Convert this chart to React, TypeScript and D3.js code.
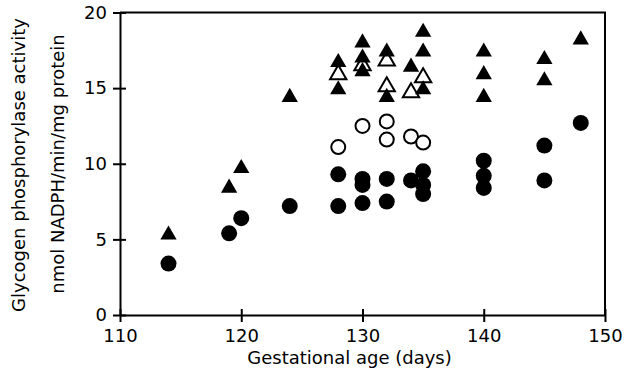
import React, { useEffect, useRef } from 'react';
import * as d3 from 'd3';

// gestational age (days) and activity values
const filledTriDays = [114, 119, 120, 124, 128, 128, 130, 130, 130, 132, 132, 134, 135, 135, 135, 140, 140, 140, 145, 145, 148];
const filledTriVals = [5.3, 8.4, 9.7, 14.4, 16.7, 14.9, 18.0, 17.0, 16.1, 17.4, 14.4, 16.4, 18.7, 17.4, 14.9, 17.4, 15.9, 14.4, 16.9, 15.5, 18.2];

const openTriDays = [128, 130, 132, 132, 134, 135];
const openTriVals = [15.9, 16.5, 16.8, 15.1, 14.7, 15.7];

const openCircDays = [128, 130, 132, 132, 134, 135];
const openCircVals = [11.1, 12.5, 12.8, 11.6, 11.8, 11.4];

const filledCircDays = [114, 119, 120, 124, 128, 128, 130, 130, 130, 132, 132, 134, 135, 135, 135, 140, 140, 140, 145, 145, 148];
const filledCircVals = [3.4, 5.4, 6.4, 7.2, 9.3, 7.2, 9.0, 8.6, 7.4, 9.0, 7.5, 8.9, 9.5, 8.6, 8.0, 10.2, 9.2, 8.4, 11.2, 8.9, 12.7];

const xTicks = [110, 120, 130, 140, 150];
const yTicks = [0, 5, 10, 15, 20];

const xLabel = 'Gestational age (days)';
const yLabel1 = 'Glycogen phosphorylase activity';
const yLabel2 = 'nmol NADPH/min/mg protein';

const App = () => {
  const svgRef = useRef<SVGSVGElement>(null);

  const width = 634;
  const height = 371;

  useEffect(() => {
    const svg = d3.select(svgRef.current);
    svg.selectAll('*').remove();

    const font = '"DejaVu Sans", sans-serif';

    const x = d3.scaleLinear().domain([110, 150]).range([120, 605]);
    const y = d3.scaleLinear().domain([0, 20]).range([315, 12.5]);

    const pairs = (a: number[], b: number[]) => a.map((d, i) => [d, b[i]]);

    // frame: top and right lines
    svg.append('path')
      .attr('d', `M${x(110)},${y(20)}H${x(150)}V${y(0)}`)
      .attr('fill', 'none')
      .attr('stroke', '#000')
      .attr('stroke-width', 2);

    // x axis
    const xAxis = d3.axisBottom(x).tickValues(xTicks).tickSize(0).tickPadding(14);
    const gx = svg.append('g')
      .attr('transform', `translate(0,${y(0)})`)
      .call(xAxis);
    gx.select('.domain').attr('stroke-width', 2);
    gx.selectAll('.tick').append('line')
      .attr('y1', -6).attr('y2', 7)
      .attr('stroke', '#000').attr('stroke-width', 2);
    gx.selectAll('.tick text')
      .attr('font-family', font).attr('font-size', 18).attr('fill', '#000');

    // y axis
    const yAxis = d3.axisLeft(y).tickValues(yTicks).tickSize(0).tickPadding(13);
    const gy = svg.append('g')
      .attr('transform', `translate(${x(110)},0)`)
      .call(yAxis);
    gy.select('.domain').attr('stroke-width', 2);
    gy.selectAll('.tick').append('line')
      .attr('x1', -7).attr('x2', 6)
      .attr('stroke', '#000').attr('stroke-width', 2);
    gy.selectAll('.tick text')
      .attr('font-family', font).attr('font-size', 18).attr('fill', '#000');

    // axis titles
    svg.append('text')
      .attr('x', (x(110) + x(150)) / 2 - 13)
      .attr('y', 364)
      .attr('text-anchor', 'middle')
      .attr('font-family', font).attr('font-size', 18)
      .text(xLabel);

    svg.append('text')
      .attr('transform', `translate(25,165) rotate(-90)`)
      .attr('text-anchor', 'middle')
      .attr('font-family', font).attr('font-size', 18)
      .text(yLabel1);

    svg.append('text')
      .attr('transform', `translate(64,164) rotate(-90)`)
      .attr('text-anchor', 'middle')
      .attr('font-family', font).attr('font-size', 18)
      .text(yLabel2);

    const tri = d3.symbol().type(d3.symbolTriangle).size(115);

    // open circles
    svg.selectAll('.ocirc')
      .data(pairs(openCircDays, openCircVals))
      .enter()
      .append('circle')
      .attr('cx', d => x(d[0]))
      .attr('cy', d => y(d[1]))
      .attr('r', 7)
      .attr('fill', '#fff')
      .attr('stroke', '#000')
      .attr('stroke-width', 2);

    // filled circles
    svg.selectAll('.fcirc')
      .data(pairs(filledCircDays, filledCircVals))
      .enter()
      .append('circle')
      .attr('cx', d => x(d[0]))
      .attr('cy', d => y(d[1]))
      .attr('r', 8)
      .attr('fill', '#000');

    // open triangles
    svg.selectAll('.otri')
      .data(pairs(openTriDays, openTriVals))
      .enter()
      .append('path')
      .attr('d', tri)
      .attr('transform', d => `translate(${x(d[0])},${y(d[1])})`)
      .attr('fill', '#fff')
      .attr('stroke', '#000')
      .attr('stroke-width', 2);

    // filled triangles
    svg.selectAll('.ftri')
      .data(pairs(filledTriDays, filledTriVals))
      .enter()
      .append('path')
      .attr('d', tri)
      .attr('transform', d => `translate(${x(d[0])},${y(d[1])})`)
      .attr('fill', '#000');
  }, []);

  return (
    <svg
      ref={svgRef}
      width={width}
      height={height}
      style={{ position: 'absolute', left: 0, top: 0, background: '#fff' }}
    />
  );
};

export default App;
